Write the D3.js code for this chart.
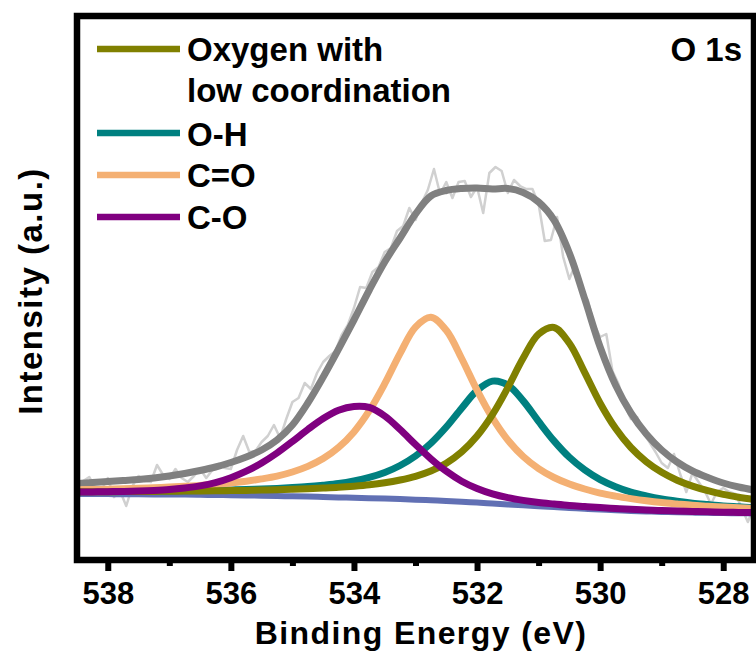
<!DOCTYPE html>
<html>
<head>
<meta charset="utf-8">
<script src="https://cdn.jsdelivr.net/npm/d3@7"></script>
<style>
  html, body { margin: 0; padding: 0; background: #ffffff; }
  svg { display: block; }
  text { font-family: "Liberation Sans", Arial, Helvetica, sans-serif; font-weight: bold; fill: #000; }
</style>
</head>
<body>
<svg id="chart" width="756" height="661"></svg>
<script>
// O 1s spectrum: binding energy grid for the fitted curves (eV)
const energyFit = [538.5, 538.25, 538, 537.75, 537.5, 537.25, 537, 536.75, 536.5, 536.25,
  536, 535.75, 535.5, 535.25, 535, 534.75, 534.5, 534.25, 534, 533.75,
  533.5, 533.25, 533, 532.75, 532.5, 532.25, 532, 531.75, 531.5, 531.25,
  531, 530.75, 530.5, 530.25, 530, 529.75, 529.5, 529.25, 529, 528.75,
  528.5, 528.25, 528, 527.75, 527.5];

// Shirley-type background (a.u.)
const background = [66.0, 66.0, 65.9, 65.8, 65.7, 65.6, 65.5, 65.4, 65.2, 65.0,
  64.8, 64.6, 64.3, 64.0, 63.7, 63.4, 63.0, 62.6, 62.2, 61.8,
  61.4, 60.9, 60.3, 59.7, 59.0, 58.2, 57.4, 56.5, 55.6, 54.7,
  53.7, 52.9, 52.0, 51.2, 50.4, 49.8, 49.1, 48.6, 48.1, 47.8,
  47.4, 47.2, 46.9, 46.8, 46.6];

// Fitted components (each drawn on top of the background)
const lowCoordOxygen = [68.2, 68.3, 68.3, 68.4, 68.5, 68.6, 68.8, 68.9, 69.1, 69.2,
  69.4, 69.6, 69.9, 70.2, 70.7, 71.2, 71.9, 72.7, 73.8, 75.2,
  77.2, 80.0, 83.7, 89.0, 96.8, 108.1, 124.0, 145.4, 172.4, 201.9,
  225.8, 232.5, 216.7, 187.3, 156.8, 131.7, 112.5, 98.3, 87.7, 79.8,
  73.9, 69.3, 65.6, 62.8, 60.5];

const hydroxyl = [68.2, 68.4, 68.5, 68.6, 68.7, 68.9, 69.1, 69.3, 69.5, 69.8,
  70.1, 70.5, 71.0, 71.6, 72.4, 73.4, 74.8, 76.5, 79.1, 82.6,
  87.5, 94.5, 104.0, 116.8, 133.0, 151.8, 169.5, 178.9, 174.9, 159.1,
  138.6, 119.1, 102.7, 90.1, 80.4, 73.3, 67.9, 64.1, 61.0, 58.7,
  56.8, 55.4, 54.1, 53.2, 52.3];

const carbonylCO = [70.2, 70.5, 70.8, 71.2, 71.7, 72.3, 72.9, 73.7, 74.6, 75.8,
  77.1, 78.8, 81.1, 83.9, 88.0, 93.6, 101.4, 112.6, 128.1, 149.3,
  176.3, 206.6, 232.9, 242.7, 229.7, 201.5, 169.9, 142.1, 120.0, 103.5,
  91.4, 82.5, 76.0, 71.0, 66.9, 63.9, 61.4, 59.2, 57.4, 56.0,
  54.7, 53.8, 52.9, 52.2, 51.5];

const etherCO = [67.9, 68.1, 68.3, 68.6, 69.0, 69.6, 70.5, 72.0, 74.1, 77.4,
  82.3, 88.8, 97.0, 107.0, 118.5, 130.5, 141.5, 149.8, 153.6, 152.6,
  144.0, 130.5, 115.5, 101.2, 88.8, 78.8, 71.5, 66.1, 62.3, 59.6,
  57.5, 56.0, 54.6, 53.5, 52.4, 51.5, 50.7, 50.1, 49.4, 49.0,
  48.5, 48.2, 47.8, 47.6, 47.4];

// Cumulative fit envelope
const envelope = [76.5, 77.5, 78.5, 79.5, 80.5, 82.0, 84.0, 86.5, 89.5, 93.0,
  97.5, 103.0, 110.0, 120.0, 135.0, 157.0, 183.0, 211.0, 240.0, 270.0,
  298.0, 322.0, 346.0, 364.0, 369.5, 371.5, 372.0, 371.0, 371.5, 367.5,
  358.0, 340.0, 307.0, 261.0, 213.0, 175.0, 147.0, 126.0, 110.0, 98.0,
  89.0, 82.5, 77.0, 73.0, 70.0];

// Measured spectrum, 0.1 eV steps
const energyRaw = [538.5, 538.4, 538.3, 538.2, 538.1, 538.0, 537.9, 537.8, 537.7, 537.6,
  537.5, 537.4, 537.3, 537.2, 537.1, 537.0, 536.9, 536.8, 536.7, 536.6,
  536.5, 536.4, 536.3, 536.2, 536.1, 536.0, 535.9, 535.8, 535.7, 535.6,
  535.5, 535.4, 535.3, 535.2, 535.1, 535.0, 534.9, 534.8, 534.7, 534.6,
  534.5, 534.4, 534.3, 534.2, 534.1, 534.0, 533.9, 533.8, 533.7, 533.6,
  533.5, 533.4, 533.3, 533.2, 533.1, 533.0, 532.9, 532.8, 532.7, 532.6,
  532.5, 532.4, 532.3, 532.2, 532.1, 532.0, 531.9, 531.8, 531.7, 531.6,
  531.5, 531.4, 531.3, 531.2, 531.1, 531.0, 530.9, 530.8, 530.7, 530.6,
  530.5, 530.4, 530.3, 530.2, 530.1, 530.0, 529.9, 529.8, 529.7, 529.6,
  529.5, 529.4, 529.3, 529.2, 529.1, 529.0, 528.9, 528.8, 528.7, 528.6,
  528.5, 528.4, 528.3, 528.2, 528.1, 528.0, 527.9, 527.8, 527.7, 527.6,
  527.5];

const measured = [68, 79, 83, 72, 70, 82, 63, 69, 54, 74,
  84, 79, 78, 95, 85, 81, 91, 82, 78, 84,
  91, 82, 90, 96, 92, 91, 110, 124, 108, 109,
  118, 124, 135, 122, 141, 158, 162, 177, 171, 187,
  198, 204, 209, 225, 235, 252, 273, 272, 288, 293,
  308, 312, 329, 334, 352, 340, 357, 370, 391, 366,
  378, 362, 378, 379, 363, 373, 347, 387, 393, 389,
  367, 380, 374, 371, 371, 356, 319, 320, 343, 303,
  281, 296, 268, 260, 236, 223, 226, 189, 176, 155,
  141, 143, 127, 118, 108, 97, 92, 106, 86, 68,
  87, 78, 69, 56, 68, 72, 68, 66, 52, 38,
  53];

const majorTicks = [538, 536, 534, 532, 530, 528];
const minorTicks = [537, 535, 533, 531, 529];

const legendItems = [
  { lines: ["Oxygen with", "low coordination"], color: "#808000" },
  { lines: ["O-H"], color: "#008080" },
  { lines: ["C=O"], color: "#F4B073" },
  { lines: ["C-O"], color: "#800080" }
];

const svg = d3.select("#chart");
const frame = { left: 77, right: 754, top: 16, bottom: 560 };

const x = d3.scaleLinear().domain([538.5, 527.5]).range([frame.left, frame.right]);
const y = d3.scaleLinear().domain([0, 544]).range([frame.bottom, frame.top]);

svg.append("rect").attr("width", 756).attr("height", 661).attr("fill", "#fff");

svg.append("clipPath").attr("id", "plotClip")
  .append("rect")
  .attr("x", frame.left).attr("y", frame.top)
  .attr("width", frame.right - frame.left).attr("height", frame.bottom - frame.top);

const plot = svg.append("g").attr("clip-path", "url(#plotClip)");

const fitLine = d3.line()
  .x((d, i) => x(energyFit[i]))
  .y(d => y(d))
  .curve(d3.curveCatmullRom.alpha(0.5));

const rawLine = d3.line()
  .x((d, i) => x(energyRaw[i]))
  .y(d => y(d));

plot.append("path").datum(measured)
  .attr("d", rawLine).attr("fill", "none")
  .attr("stroke", "#d0d0d0").attr("stroke-width", 2.5).attr("stroke-linejoin", "round");

plot.append("path").datum(envelope)
  .attr("d", fitLine).attr("fill", "none")
  .attr("stroke", "#808080").attr("stroke-width", 7);

const fitted = [
  { values: background, color: "#6170B4", width: 6 },
  { values: hydroxyl, color: "#008080", width: 7 },
  { values: carbonylCO, color: "#F4B073", width: 7 },
  { values: lowCoordOxygen, color: "#808000", width: 7 },
  { values: etherCO, color: "#800080", width: 7 }
];

fitted.forEach(s => {
  plot.append("path").datum(s.values)
    .attr("d", fitLine).attr("fill", "none")
    .attr("stroke", s.color).attr("stroke-width", s.width);
});

// Axis frame
svg.append("rect")
  .attr("x", frame.left).attr("y", frame.top)
  .attr("width", frame.right - frame.left).attr("height", frame.bottom - frame.top)
  .attr("fill", "none").attr("stroke", "#000").attr("stroke-width", 6.5);

// Bottom axis: major ticks with labels, minor ticks without
const majorAxis = svg.append("g")
  .attr("transform", `translate(0,${frame.bottom})`)
  .call(d3.axisBottom(x).tickValues(majorTicks).tickSize(11).tickFormat(d3.format("d")));
majorAxis.select(".domain").remove();
majorAxis.selectAll(".tick line").attr("stroke", "#000").attr("stroke-width", 6);
majorAxis.selectAll(".tick text")
  .attr("y", 44).attr("dy", 0)
  .style("font-family", '"Liberation Sans", Arial, sans-serif')
  .style("font-weight", "bold").style("font-size", "31px")
  .attr("fill", "#000");

const minorAxis = svg.append("g")
  .attr("transform", `translate(0,${frame.bottom})`)
  .call(d3.axisBottom(x).tickValues(minorTicks).tickSize(6).tickFormat(""));
minorAxis.select(".domain").remove();
minorAxis.selectAll(".tick line").attr("stroke", "#000").attr("stroke-width", 6);

// Axis titles
svg.append("text")
  .attr("x", 421).attr("y", 644)
  .attr("text-anchor", "middle")
  .style("font-size", "32px").style("letter-spacing", "1.4px")
  .text("Binding Energy (eV)");

svg.append("text")
  .attr("transform", "translate(42,291) rotate(-90)")
  .attr("text-anchor", "middle")
  .style("font-size", "33px").style("letter-spacing", "1.5px")
  .text("Intensity (a.u.)");

// Legend
const legendRows = [49, 133, 175, 217];
const textBaselines = [[61, 102], [146], [187], [229]];
legendItems.forEach((item, i) => {
  svg.append("line")
    .attr("x1", 97).attr("x2", 180)
    .attr("y1", legendRows[i]).attr("y2", legendRows[i])
    .attr("stroke", item.color).attr("stroke-width", 6.5);
  item.lines.forEach((t, j) => {
    svg.append("text")
      .attr("x", 187).attr("y", textBaselines[i][j])
      .style("font-size", "33px")
      .text(t);
  });
});

svg.append("text")
  .attr("x", 742).attr("y", 61)
  .attr("text-anchor", "end")
  .style("font-size", "33px")
  .text("O 1s");
</script>
</body>
</html>
